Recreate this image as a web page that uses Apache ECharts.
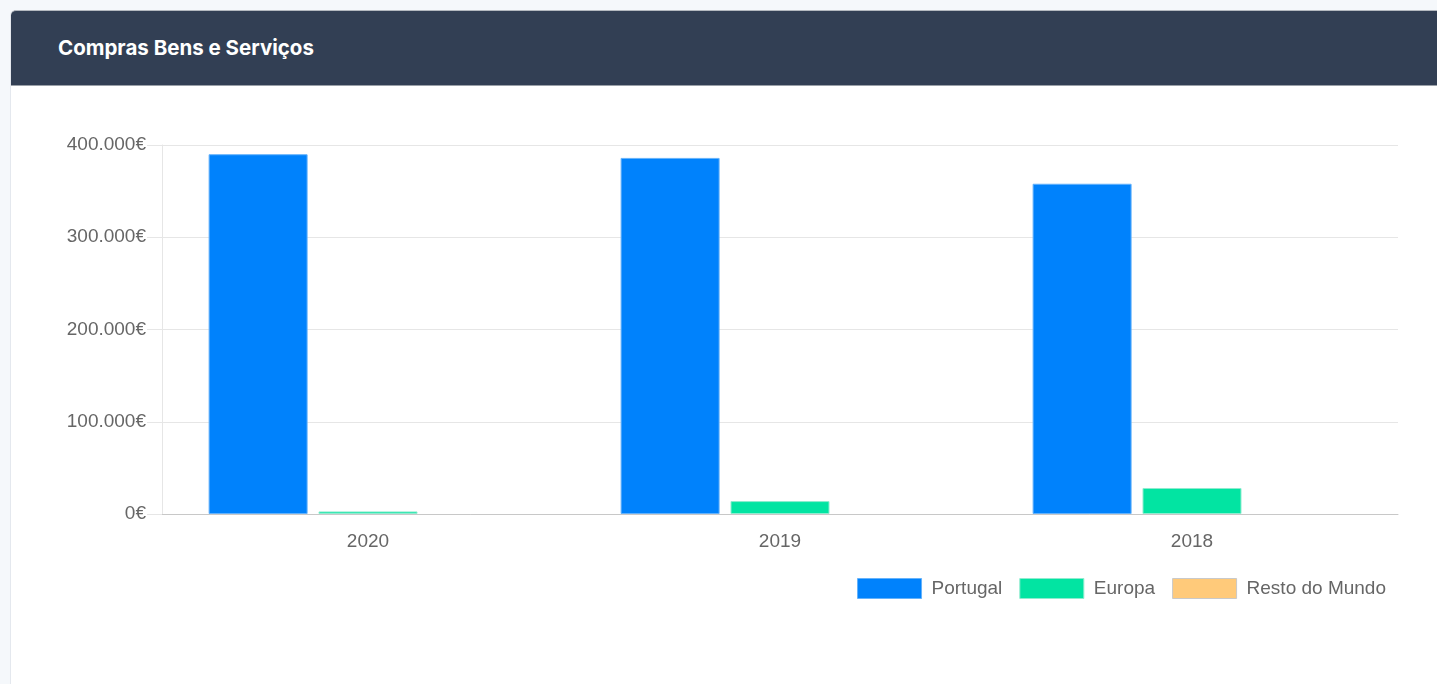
<!DOCTYPE html>
<html>
<head>
<meta charset="utf-8">
<script src="https://cdn.jsdelivr.net/npm/echarts@6/dist/echarts.min.js"></script>
<style>
  html, body { margin: 0; padding: 0; background: #f5f8fb; overflow: hidden; }
  .card {
    position: absolute; left: 10px; top: 10px; width: 1440px; height: 700px;
    background: #fff; border-left: 1px solid #e4e8ee; border-radius: 5px 0 0 0;
  }
  .card-header {
    height: 74px; background: #323f54; border-radius: 5px 0 0 0;
    border-top: 1px solid #b4b9c0; border-bottom: 1px solid #9aa0a8;
    color: #fff; font-family: Inter, "Noto Sans", sans-serif; font-weight: 700;
    font-size: 20.5px; line-height: 74px; padding-left: 47px;
  }
  #chart { position: absolute; left: 11px; top: 86px; width: 1426px; height: 598px; }
</style>
</head>
<body>
<div class="card">
  <div class="card-header">Compras Bens e Serviços</div>
</div>
<div id="chart"></div>
<script>
const years = ['2020', '2019', '2018']
const portugal = [390000, 386000, 358000]
const europa = [2800, 14000, 28200]
const restoMundo = [0, 0, 0]
const yTicks = [0, 100000, 200000, 300000, 400000]

const fmtEuro = v => String(v).replace(/\B(?=(\d{3})+(?!\d))/g, '.') + '€'

const chart = echarts.init(document.getElementById('chart'))

const font = { fontFamily: '"Liberation Sans", Arial, sans-serif', fontSize: 19, color: '#666' }

const mkSeries = (name, data, color, border) => ({
  name,
  type: 'bar',
  data,
  barWidth: 99,
  barGap: '11%',
  itemStyle: { color, borderColor: border, borderWidth: 1 },
  emphasis: { disabled: true }
})

chart.setOption({
  animation: false,
  textStyle: font,
  grid: { left: 151, top: 59, width: 1236, height: 369 },
  legend: {
    right: 46,
    top: 487,
    icon: 'rect',
    itemWidth: 64,
    itemHeight: 20,
    itemGap: 17,
    textStyle: { ...font, padding: [0, 0, 0, 5] },
    data: [
      { name: 'Portugal', itemStyle: { borderColor: '#64b2fb', borderWidth: 1 } },
      { name: 'Europa', itemStyle: { borderColor: '#8eeccf', borderWidth: 1 } },
      { name: 'Resto do Mundo', itemStyle: { color: '#ffca7a', borderColor: '#c9c9c9', borderWidth: 1 } }
    ]
  },
  xAxis: {
    type: 'category',
    data: years,
    axisLine: { lineStyle: { color: '#c8c8c8', width: 1 } },
    axisTick: { show: false },
    axisLabel: { ...font, margin: 18 },
    splitLine: { show: false }
  },
  yAxis: {
    type: 'value',
    min: yTicks[0],
    max: yTicks[yTicks.length - 1],
    interval: yTicks[1] - yTicks[0],
    axisLine: { show: true, lineStyle: { color: '#e6e6e6' } },
    axisTick: { show: true, length: 15, lineStyle: { color: '#e6e6e6' } },
    axisLabel: { ...font, margin: 16, formatter: fmtEuro },
    splitLine: { lineStyle: { color: '#e6e6e6' } }
  },
  series: [
    mkSeries('Portugal', portugal, '#0082fc', '#64b2fb'),
    mkSeries('Europa', europa, '#02e4a2', '#8eeccf'),
    { ...mkSeries('Resto do Mundo', restoMundo, '#ffca7a', '#c9c9c9'), itemStyle: { color: '#ffca7a', borderWidth: 0 } }
  ]
})

window.addEventListener('resize', () => chart.resize())
</script>
</body>
</html>
